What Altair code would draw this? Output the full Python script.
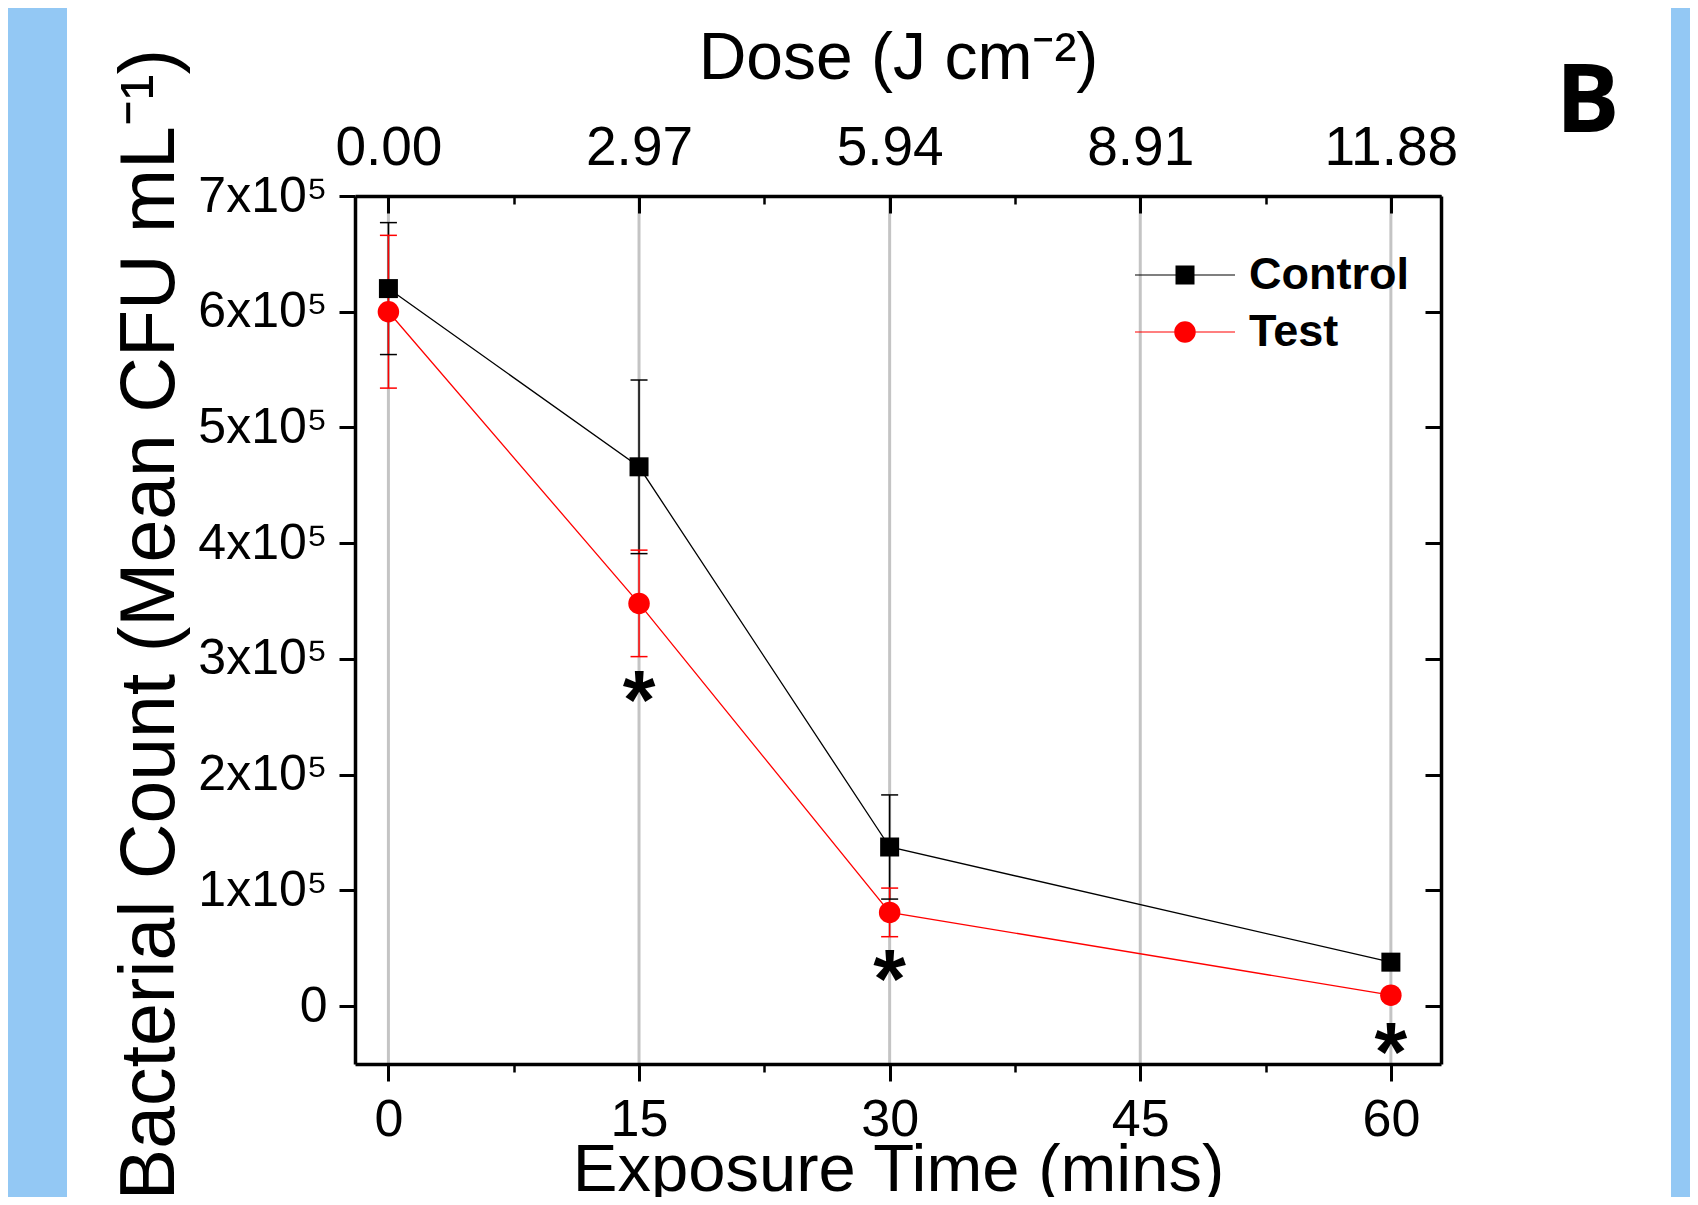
import altair as alt
import pandas as pd

# ---------------- data ----------------
times = [0, 15, 30, 60]
control_mean = [620000, 466000, 137500, 38000]
control_err = [57000, 75000, 45000, 3000]
test_mean = [600000, 348000, 81000, 9500]
test_err = [66000, 46000, 21000, 2000]
series_names = ["Control", "Test"]
series_colors = ["#000000", "#ff0000"]

star_times = [15, 30, 60]
star_values = [276000, 34500, -28500]
star_text = ["*", "*", "*"]

x_major = [0, 15, 30, 45, 60]
x_minor = [7.5, 22.5, 37.5, 52.5]
x_labels = ["0", "15", "30", "45", "60"]
dose_labels = ["0.00", "2.97", "5.94", "8.91", "11.88"]
y_ticks = [0, 100000, 200000, 300000, 400000, 500000, 600000, 700000]
y_labels = ["0", "1x10⁵", "2x10⁵", "3x10⁵", "4x10⁵", "5x10⁵", "6x10⁵", "7x10⁵"]

# ---------------- tables ----------------
rows = []
for name, means, errs in [("Control", control_mean, control_err), ("Test", test_mean, test_err)]:
    for t, m, e in zip(times, means, errs):
        rows.append({"series": name, "time": t, "mean": m, "err": e})
df = pd.DataFrame(rows)
stars_df = pd.DataFrame({"time": star_times, "value": star_values, "label": star_text})
grid_df = pd.DataFrame({"tick": x_major})


def label_expr(values, labels):
    expr = "''"
    for v, l in reversed(list(zip(values, labels))):
        expr = f"datum.value == {v} ? '{l}' : ({expr})"
    return expr


W, H = 1086, 868
FONT = "Liberation Sans"

xs = alt.Scale(domain=[-2, 63], nice=False, zero=False)
ys = alt.Scale(domain=[-50000, 700000], nice=False, zero=False)
cscale = alt.Scale(domain=series_names, range=series_colors)

# ---------------- axes ----------------
ax_bottom_main = alt.Axis(
    orient="bottom", values=x_major, labelExpr=label_expr(x_major, x_labels),
    tickSize=17, tickWidth=3, domain=True, domainWidth=3.5,
    labelFontSize=52, labelPadding=54, labelBaseline="alphabetic",
    title="Exposure Time (mins)", titleFontSize=67, titleX=W / 2, titleY=126,
    titleBaseline="alphabetic", zindex=1,
)
ax_bottom_minor = alt.Axis(
    orient="bottom", values=x_minor, tickSize=8, tickWidth=2.5,
    labels=False, domain=False, title=None, zindex=1,
)
ax_top_labels = alt.Axis(
    orient="top", values=x_major, labelExpr=label_expr(x_major, dose_labels),
    ticks=False, tickSize=0, domain=True, domainWidth=3.5,
    labelFontSize=55, labelPadding=32, labelBaseline="alphabetic",
    title="Dose (J cm⁻²)", titleFontSize=66, titleX=W / 2, titleY=-118,
    titleBaseline="alphabetic", zindex=1,
)
ax_top_in_major = alt.Axis(
    orient="bottom", offset=-H, values=x_major, tickSize=17, tickWidth=3,
    labels=False, domain=False, title=None, zindex=1,
)
ax_top_in_minor = alt.Axis(
    orient="bottom", offset=-H, values=x_minor, tickSize=8, tickWidth=2.5,
    labels=False, domain=False, title=None, zindex=1,
)
ax_left_main = alt.Axis(
    orient="left", values=y_ticks, labelExpr=label_expr(y_ticks, y_labels),
    tickSize=16, tickWidth=3, domain=True, domainWidth=3.5,
    labelFontSize=50, labelPadding=12,
    title="Bacterial Count (Mean CFU mL⁻¹)", titleFontSize=77,
    titleX=-182, titleY=H / 2 - 6, titleBaseline="alphabetic", titleAlign="center",
    zindex=1,
)
ax_right = alt.Axis(
    orient="left", offset=-W, values=y_ticks, tickSize=16, tickWidth=3,
    labels=False, domain=True, domainWidth=3.5,
    title="B", titleAngle=0, titleX=178, titleY=-65, titleAlign="right",
    titleBaseline="alphabetic", titleFont="Open Sans", titleFontSize=95,
    titleFontWeight="bold", zindex=1,
)

# ---------------- layers ----------------
panel = alt.Chart(alt.Data(values=[{"panel": 1}])).mark_rect(fill="white").encode(
    x=alt.value(-288), x2=alt.value(1316), y=alt.value(-188), y2=alt.value(1100)
)

grid = alt.Chart(grid_df).mark_rule(color="#c4c4c4", strokeWidth=3).encode(
    x=alt.X("tick:Q", scale=xs, axis=ax_bottom_main)
)

lines = alt.Chart(df).mark_line(strokeWidth=1.3).encode(
    x=alt.X("time:Q", scale=xs, axis=ax_bottom_minor),
    y=alt.Y("mean:Q", scale=ys, axis=ax_left_main),
    color=alt.Color("series:N", scale=cscale, legend=None),
)

errbars = alt.Chart(df).transform_calculate(
    lo="datum.mean - datum.err", hi="datum.mean + datum.err"
).mark_rule(strokeWidth=1.5).encode(
    x=alt.X("time:Q", scale=xs, axis=ax_top_labels),
    y=alt.Y("lo:Q", scale=ys, axis=ax_right),
    y2="hi:Q",
    color=alt.Color("series:N", scale=cscale, legend=None),
)

caps = alt.Chart(df).transform_calculate(
    lo="datum.mean - datum.err", hi="datum.mean + datum.err"
).transform_fold(["lo", "hi"], as_=["end", "val"]).mark_rule(
    strokeWidth=1.5, xOffset=-8.5, x2Offset=8.5
).encode(
    x=alt.X("time:Q", scale=xs, axis=ax_top_in_major),
    x2="time:Q",
    y=alt.Y("val:Q", scale=ys, axis=None),
    color=alt.Color("series:N", scale=cscale, legend=None),
)

points = alt.Chart(df).mark_point(filled=True, opacity=1, strokeWidth=0).encode(
    x=alt.X("time:Q", scale=xs, axis=ax_top_in_minor),
    y=alt.Y("mean:Q", scale=ys, axis=None),
    color=alt.Color("series:N", scale=cscale, legend=None),
    shape=alt.Shape("series:N", scale=alt.Scale(domain=series_names, range=["square", "circle"]), legend=None),
    size=alt.Size("series:N", scale=alt.Scale(domain=series_names, range=[361, 462]), legend=None),
)

stars = alt.Chart(stars_df).mark_text(
    font=FONT, fontWeight="bold", fontSize=84, baseline="alphabetic", dy=42, color="black"
).encode(
    x=alt.X("time:Q", scale=xs, axis=None),
    y=alt.Y("value:Q", scale=ys, axis=None),
    text="label:N",
)

sq_path = ("M-2,-0.024H-0.38V0.024H-2Z M0.38,-0.024H2V0.024H0.38Z "
           "M-0.38,-0.38H0.38V0.38H-0.38Z")
ci_path = ("M-2,-0.024H-0.43V0.024H-2Z M0.43,-0.024H2V0.024H0.43Z "
           "M-0.43,0A0.43,0.43 0 1,0 0.43,0A0.43,0.43 0 1,0 -0.43,0Z")

leg = alt.Legend(
    title=None, orient="none", legendX=805, legendY=54, symbolSize=2500,
    symbolStrokeWidth=0, symbolOpacity=1, labelFont=FONT, labelFontSize=45,
    labelFontWeight="bold", labelColor="black", labelOffset=39, rowPadding=9, padding=0,
)
legend_layer = alt.Chart(df).transform_filter("false").mark_point(filled=True, opacity=1).encode(
    color=alt.Color("series:N", scale=cscale, legend=leg),
    shape=alt.Shape("series:N", scale=alt.Scale(domain=series_names, range=[sq_path, ci_path]), legend=leg),
)

chart = alt.layer(
    panel, grid, lines, errbars, caps, points, stars, legend_layer
).resolve_scale(
    color="independent", shape="independent", size="independent"
).resolve_axis(
    x="independent", y="independent"
).properties(
    width=W, height=H,
    autosize=alt.AutoSizeParams(type="none"),
    padding={"left": 347, "top": 188, "right": 249, "bottom": 133},
    background="#93C8F4",
).configure_view(
    stroke="transparent"
).configure_axis(
    labelFont=FONT, titleFont=FONT, labelColor="black", titleColor="black",
    tickColor="black", domainColor="black", titleFontWeight="normal",
    labelOverlap=False, labelFlush=False, grid=False,
)

chart.save("out.html", embed_options={"renderer": "svg", "actions": False})
